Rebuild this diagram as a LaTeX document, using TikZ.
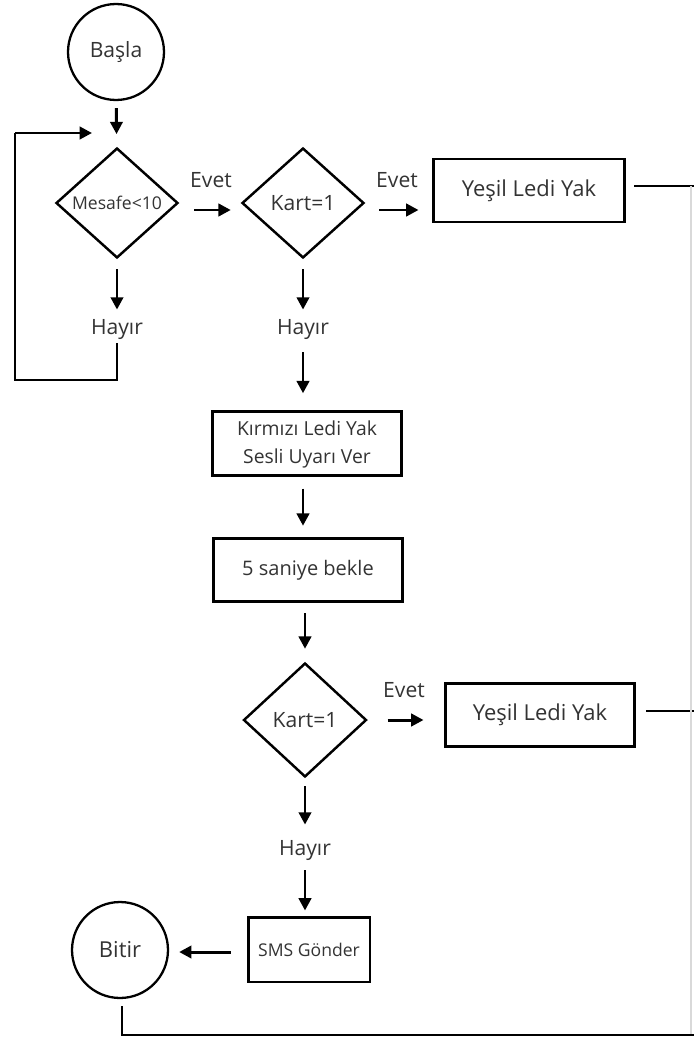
\documentclass[tikz,border=0pt]{standalone}
\usepackage{fontspec}
\setmainfont{Open Sans}
\usetikzlibrary{shapes.geometric,arrows.meta}
\definecolor{txt}{HTML}{333333}
\tikzset{
  every node/.style={text=txt, font=\fontsize{12}{14}\selectfont},
  circ/.style={circle, draw=black, line width=1.3pt, minimum size=1.92cm, inner sep=0pt},
  dec/.style={diamond, draw=black, line width=1.4pt, minimum width=2.44cm, minimum height=2.2cm, inner sep=0pt},
  proc/.style={rectangle, draw=black, line width=1.7pt, minimum width=3.8cm, minimum height=1.27cm, inner sep=0pt},
  lbl/.style={inner sep=0pt},
  arr/.style={line width=1.7pt, -{Triangle[length=7pt,width=7pt]}},
  conn/.style={line width=1.5pt},
  faint/.style={line width=0.6pt, draw=gray!30}
}
\begin{document}
\begin{tikzpicture}[x=0.02cm, y=-0.02cm]
\useasboundingbox (0,0) rectangle (694,1037);

% nodes
\node[circ] (start) at (116,52) {Başla};
\node[dec] (m) at (117,203) {\fontsize{10}{12}\selectfont Mesafe<10};
\node[dec] (k1) at (303,203) {Kart=1};
\node[proc, minimum width=3.84cm, minimum height=1.26cm] (y1) at (529,190.5) {\fontsize{12.5}{14}\selectfont Yeşil Ledi Yak};
\node[lbl] (e1) at (211,180) {Evet};
\node[lbl] (e2) at (397,180) {Evet};
\node[lbl] (h1) at (117,330) {Hayır};
\node[lbl] (h2) at (303,330) {Hayır};
\node[proc] (r) at (307,443.5) {\fontsize{11}{16}\selectfont\begin{tabular}{@{}c@{}}Kırmızı Ledi Yak\\Sesli Uyarı Ver\end{tabular}};
\node[proc] (s5) at (308,570) {\fontsize{11.4}{14}\selectfont 5 saniye bekle};
\node[dec, minimum width=2.46cm, minimum height=2.28cm] (k2) at (305,720) {Kart=1};
\node[lbl] (e3) at (404,690) {Evet};
\node[proc] (y2) at (540,715) {\fontsize{12.5}{14}\selectfont Yeşil Ledi Yak};
\node[lbl] (h3) at (305,850) {Hayır};
\node[proc, minimum width=2.44cm, minimum height=1.3cm] (sms) at (309,949.5) {\fontsize{10}{12}\selectfont SMS Gönder};
\node[circ] (end) at (120,950) {\fontsize{12.5}{14}\selectfont Bitir};

% free ends
\coordinate (lp1) at (15,380);
\coordinate (lp2) at (15,133);
\coordinate (lp3) at (92,133);
\coordinate (r1) at (691,186);
\coordinate (r2) at (691,711);
\coordinate (b1) at (122,1035);
\coordinate (b2) at (694,1035);

% connectors
\draw[arr, shorten <=0.14cm, shorten >=0.26cm] (start) -- (m);
\draw[arr, shorten <=0.2cm, shorten >=0.2cm] (m) -- (h1);
\draw[arr, shorten <=0.2cm, shorten >=0.2cm] (k1) -- (h2);
\draw[arr, shorten <=0.24cm, shorten >=0.34cm] (h2.south) -- (h2.south |- r.north);
\draw[arr, shorten <=0.24cm, shorten >=0.22cm] (r.south -| h2) -- (s5.north -| h2);
\draw[arr, shorten <=0.2cm, shorten >=0.26cm] (s5.south -| k2) -- (k2.north);
\draw[arr, shorten <=0.16cm, shorten >=0.3cm] (k2) -- (h3);
\draw[arr, shorten <=0.2cm, shorten >=0.1cm] (h3.south) -- (h3.south |- sms.north);
\draw[arr, shorten <=0.32cm, shorten >=0.2cm] ([yshift=-0.05cm]sms.west) -- ([yshift=-0.05cm]sms.west -| end.east);

\draw[arr, shorten <=0.3cm, shorten >=0.2cm] ([yshift=-0.14cm]m.east) -- ([yshift=-0.14cm]k1.west);
\draw[arr, shorten <=0.28cm, shorten >=0.26cm] ([yshift=-0.14cm]k1.east) -- ([yshift=-0.14cm]k1.east -| y1.west);
\draw[arr, shorten <=0.4cm, shorten >=0.4cm] (k2.east) -- (k2.east -| y2.west);

% loop back
\draw[conn, shorten <=0.06cm] (h1.south) -- (h1.south |- lp1) -- (lp1) -- (lp2);
\draw[arr] (lp2) -- (lp3);

% right-side return
\draw[conn, shorten <=0.16cm] ([yshift=0.09cm]y1.east) -- ([yshift=0.09cm]y1.east -| r1) -- ++(3,0);
\draw[conn, shorten <=0.2cm] ([yshift=0.08cm]y2.east) -- ([yshift=0.08cm]y2.east -| r2) -- ++(3,0);
\draw[faint] (r1) -- (r2) -- (b2 -| r1);
\draw[conn, shorten <=0.14cm] ([xshift=0.04cm]end.south) -- ([xshift=0.04cm]end.south |- b1) -- (b2);
\end{tikzpicture}
\end{document}
